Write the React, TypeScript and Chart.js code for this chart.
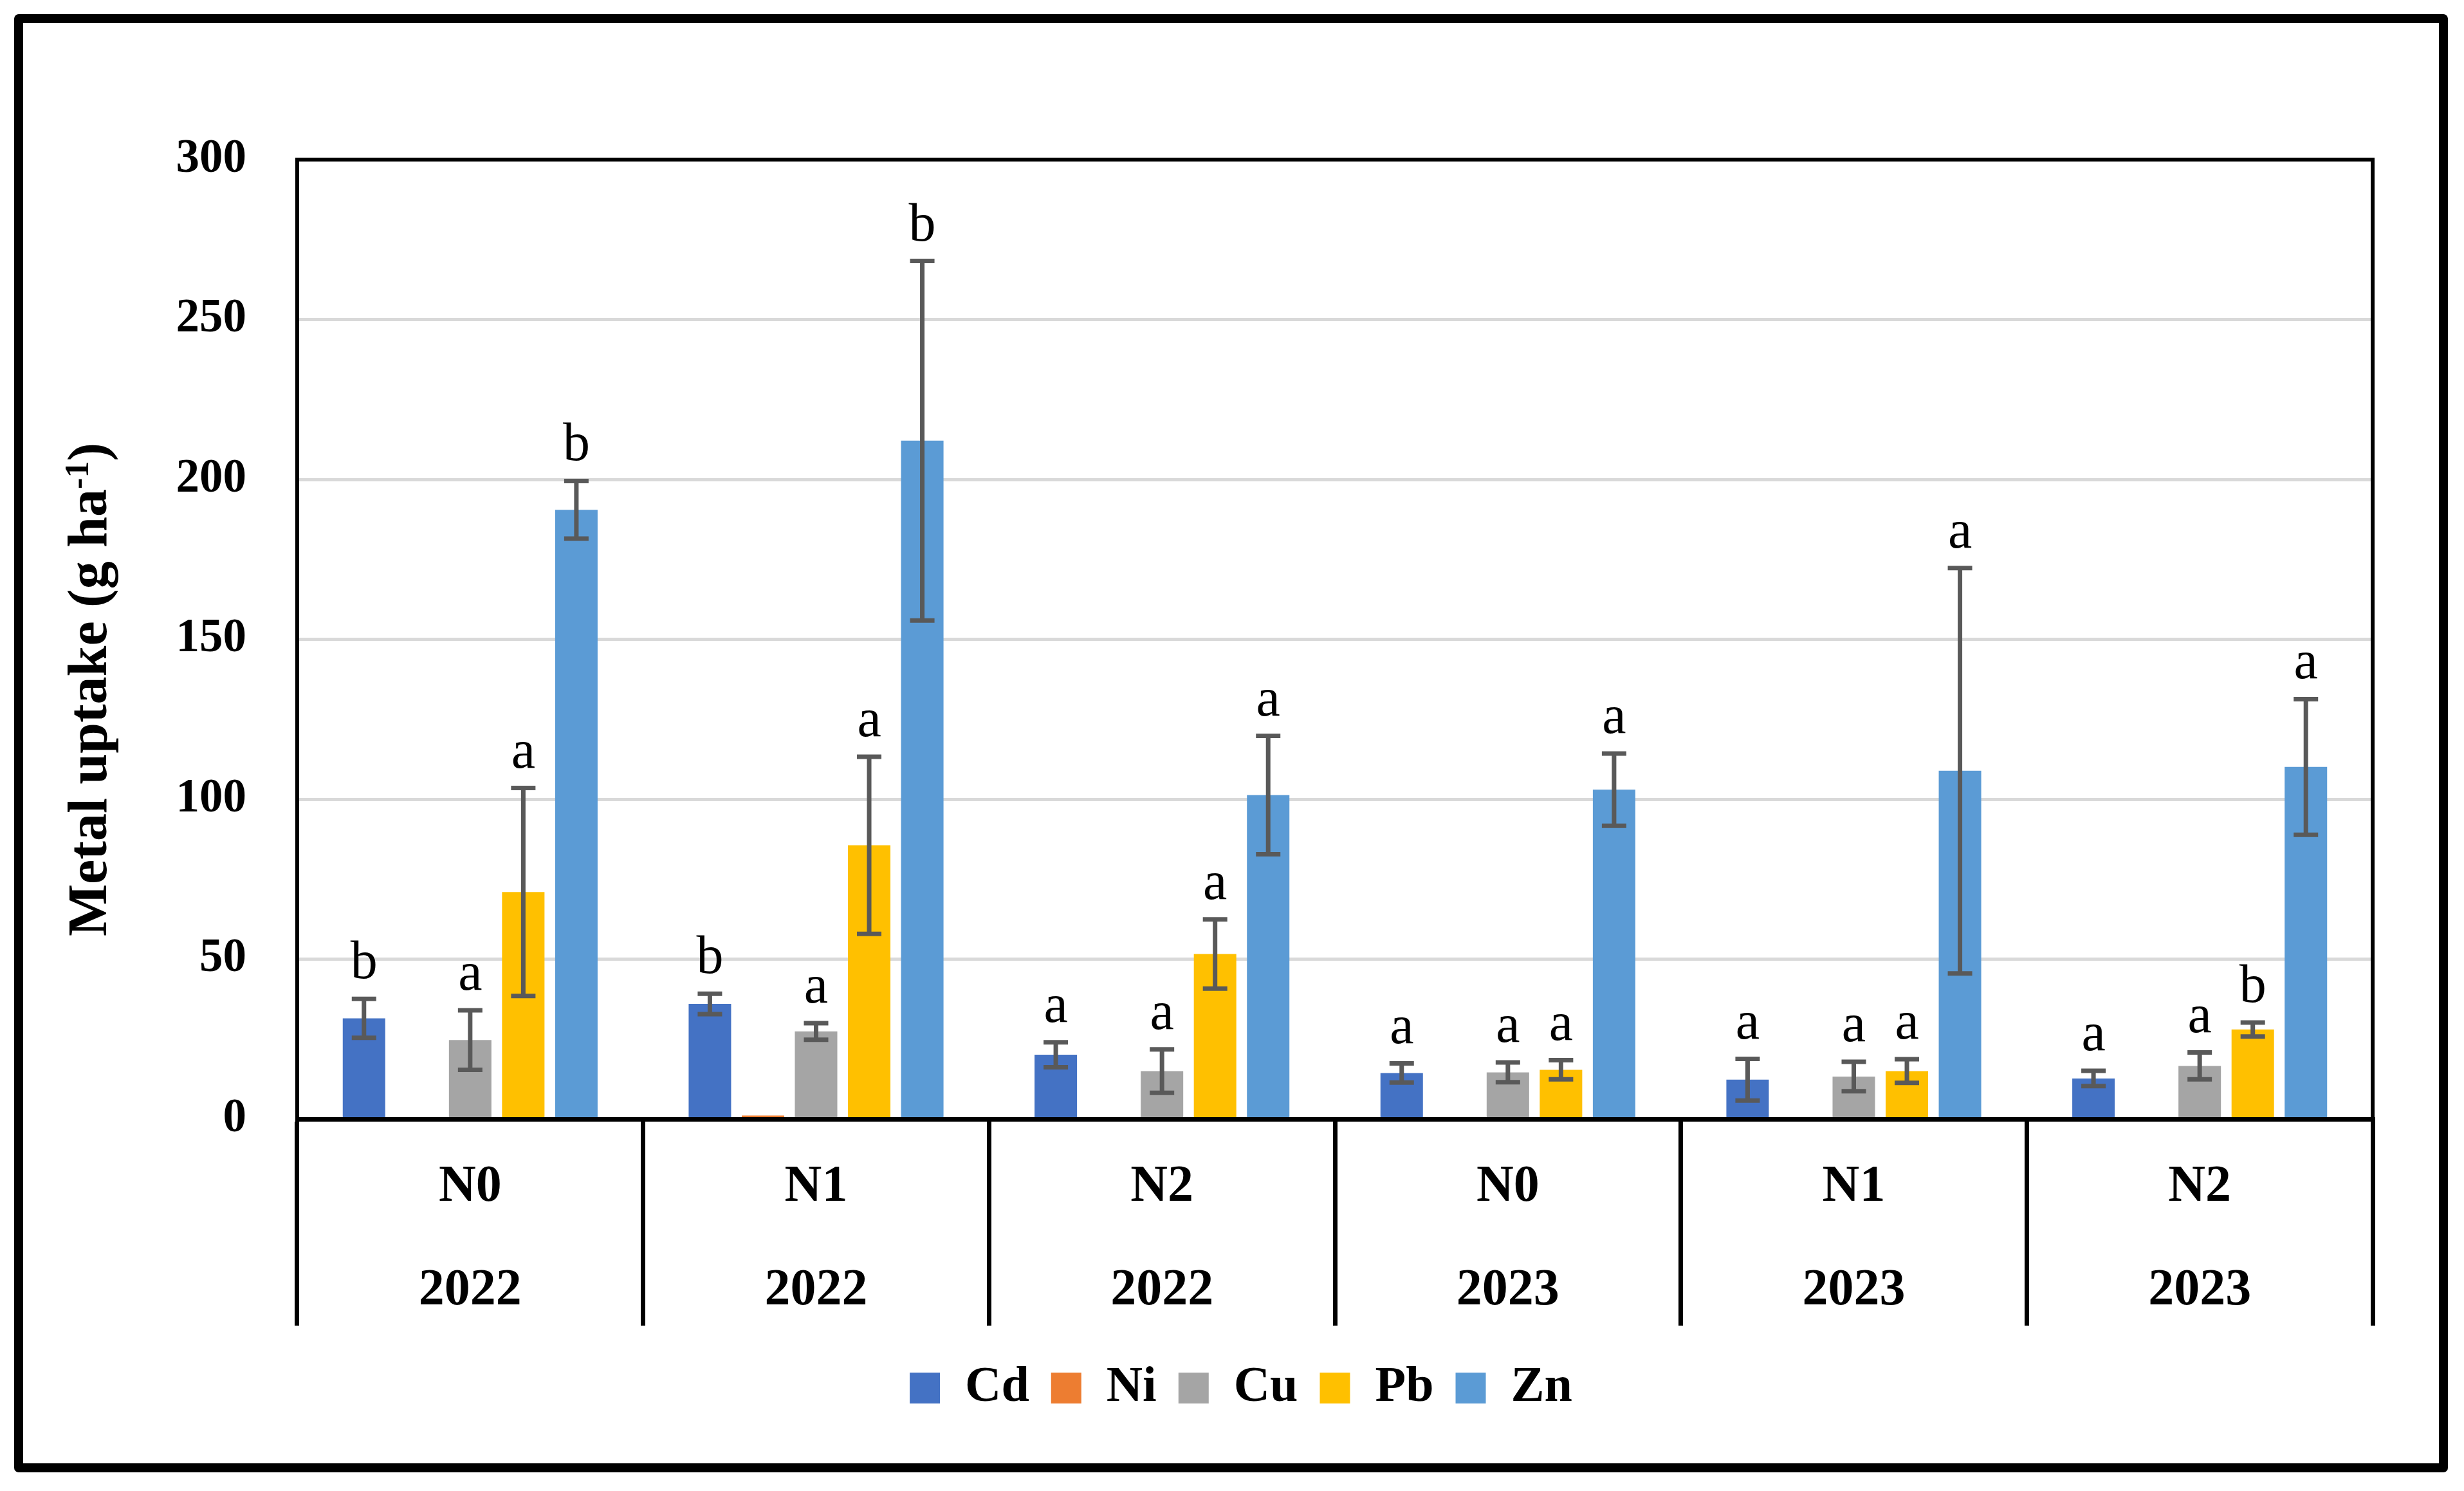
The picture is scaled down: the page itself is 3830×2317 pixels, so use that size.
import React, { useEffect, useRef } from 'react';
import { Chart, registerables } from 'chart.js';

Chart.register(...registerables);

// ---- data ----
const treatments = ['N0', 'N1', 'N2', 'N0', 'N1', 'N2'];
const years = ['2022', '2022', '2022', '2023', '2023', '2023'];
const metals = ['Cd', 'Ni', 'Cu', 'Pb', 'Zn'];

const cdValues = [31.5, 36.0, 20.1, 14.4, 12.3, 12.7];
const cdErrors = [6.1, 3.2, 3.9, 3.0, 6.5, 2.4];
const cdLetters = ['b', 'b', 'a', 'a', 'a', 'a'];

const niValues = [0, 1.1, 0, 0, 0, 0];
const niErrors = [0, 0, 0, 0, 0, 0];
const niLetters = ['', '', '', '', '', ''];

const cuValues = [24.7, 27.4, 15.0, 14.6, 13.3, 16.6];
const cuErrors = [9.3, 2.6, 6.8, 3.1, 4.6, 4.2];
const cuLetters = ['a', 'a', 'a', 'a', 'a', 'a'];

const pbValues = [71.0, 85.6, 51.6, 15.4, 15.0, 28.0];
const pbErrors = [32.5, 27.7, 10.8, 3.0, 3.7, 2.2];
const pbLetters = ['a', 'a', 'a', 'a', 'a', 'b'];

const znValues = [190.5, 212.1, 101.3, 103.0, 108.9, 110.1];
const znErrors = [9.0, 56.2, 18.5, 11.3, 63.4, 21.2];
const znLetters = ['b', 'b', 'a', 'a', 'a', 'a'];

const yMin = 0;
const yMax = 300;
const yStep = 50;

const yTitleMain = 'Metal uptake (g ha';
const yTitleSup = '-1';
const yTitleEnd = ')';

// ---- styles ----
const FONT = '"Liberation Serif", "Times New Roman", serif';
const colors = ['#4472C4', '#ED7D31', '#A5A5A5', '#FFC000', '#5B9BD5'];
const seriesValues = [cdValues, niValues, cuValues, pbValues, znValues];
const seriesErrors = [cdErrors, niErrors, cuErrors, pbErrors, znErrors];
const seriesLetters = [cdLetters, niLetters, cuLetters, pbLetters, znLetters];

const W = 3830;
const H = 2317;

const decorPlugin = {
  id: 'decor',
  afterDatasetsDraw(chart: any) {
    const ctx = chart.ctx;
    const yScale = chart.scales.y;
    ctx.save();
    // error bars and letters
    chart.data.datasets.forEach((ds: any, i: number) => {
      const meta = chart.getDatasetMeta(i);
      const errs = seriesErrors[i];
      const letters = seriesLetters[i];
      meta.data.forEach((el: any, j: number) => {
        const v = ds.data[j];
        const e = errs[j];
        const x = el.x;
        let topPix = yScale.getPixelForValue(v);
        if (e > 0) {
          const yT = yScale.getPixelForValue(v + e);
          const yB = yScale.getPixelForValue(v - e);
          topPix = yT;
          ctx.strokeStyle = '#595959';
          ctx.lineWidth = 7;
          ctx.lineCap = 'butt';
          ctx.beginPath();
          ctx.moveTo(x, yT);
          ctx.lineTo(x, yB);
          ctx.moveTo(x - 19, yT);
          ctx.lineTo(x + 19, yT);
          ctx.moveTo(x - 19, yB);
          ctx.lineTo(x + 19, yB);
          ctx.stroke();
        }
        const letter = letters[j];
        if (letter) {
          ctx.fillStyle = '#000';
          ctx.font = `normal 84px ${FONT}`;
          ctx.textAlign = 'center';
          ctx.textBaseline = 'alphabetic';
          ctx.fillText(letter, x, topPix - 32);
        }
      });
    });
    ctx.restore();
  },
  afterDraw(chart: any) {
    const ctx = chart.ctx;
    const ca = chart.chartArea;
    ctx.save();
    // plot frame top and right
    ctx.strokeStyle = '#000';
    ctx.lineWidth = 6;
    ctx.beginPath();
    ctx.moveTo(ca.left - 3, ca.top);
    ctx.lineTo(ca.right, ca.top);
    ctx.lineTo(ca.right, ca.bottom);
    ctx.stroke();
    // outer border
    ctx.lineWidth = 14;
    ctx.lineJoin = 'round';
    ctx.strokeRect(29, 29, W - 29 - 32, H - 29 - 36);
    // y axis title with superscript
    const fMain = `bold 86px ${FONT}`;
    const fSup = `bold 52px ${FONT}`;
    ctx.font = fMain;
    const wMain = ctx.measureText(yTitleMain).width;
    const wEnd = ctx.measureText(yTitleEnd).width;
    ctx.font = fSup;
    const wSup = ctx.measureText(yTitleSup).width;
    const total = wMain + wSup + wEnd;
    const cx = ca.left - 297;
    const cy = (ca.top + ca.bottom) / 2 + 78;
    ctx.translate(cx, cy);
    ctx.rotate(-Math.PI / 2);
    ctx.fillStyle = '#000';
    ctx.textAlign = 'left';
    ctx.textBaseline = 'alphabetic';
    let x = -total / 2;
    ctx.font = fMain;
    ctx.fillText(yTitleMain, x, 0);
    x += wMain;
    ctx.font = fSup;
    ctx.fillText(yTitleSup, x, -28);
    x += wSup;
    ctx.font = fMain;
    ctx.fillText(yTitleEnd, x, 0);
    ctx.restore();
  },
};

export default function App() {
  const canvasRef = useRef<HTMLCanvasElement | null>(null);

  useEffect(() => {
    document.body.style.margin = '0';
    const canvas = canvasRef.current;
    if (!canvas) return;
    const labels = treatments.map((t, i) => [t, years[i]]);
    const chart = new Chart(canvas, {
      type: 'bar',
      data: {
        labels,
        datasets: metals.map((m, i) => ({
          label: m,
          data: seriesValues[i],
          backgroundColor: colors[i],
          borderWidth: 0,
          categoryPercentage: 0.7675,
          barPercentage: 0.8,
        })),
      },
      options: {
        animation: false,
        responsive: false,
        devicePixelRatio: 1,
        events: [],
        layout: { padding: { top: 248, left: 170, right: 142, bottom: 111 } },
        plugins: {
          tooltip: { enabled: false },
          title: { display: false },
          legend: {
            position: 'bottom',
            labels: {
              boxWidth: 47,
              boxHeight: 48,
              padding: 34,
              color: '#000',
              font: { family: FONT, size: 78, weight: 'bold' },
            },
          },
        },
        scales: {
          x: {
            offset: true,
            grid: {
              display: true,
              offset: true,
              drawOnChartArea: false,
              drawTicks: true,
              tickLength: 321,
              tickWidth: 7,
              tickColor: '#000',
              lineWidth: 7,
              color: '#000',
            },
            border: { display: true, color: '#000', width: 7, z: 1 },
            ticks: {
              autoSkip: false,
              maxRotation: 0,
              minRotation: 0,
              padding: -295,
              color: '#000',
              font: { family: FONT, size: 80, weight: 'bold', lineHeight: 2.0125 },
            },
            afterFit: (scale: any) => {
              scale.height = 345;
            },
          },
          y: {
            min: yMin,
            max: yMax,
            grid: {
              color: '#D9D9D9',
              lineWidth: 5,
              drawTicks: false,
            },
            border: { display: true, color: '#000', width: 6 },
            ticks: {
              stepSize: yStep,
              padding: 79,
              color: '#000',
              font: { family: FONT, size: 73, weight: 'bold' },
            },
            afterFit: (scale: any) => {
              scale.width = 292;
            },
          },
        },
      },
      plugins: [decorPlugin],
    } as any);
    return () => chart.destroy();
  }, []);

  return (
    <div style={{ position: 'absolute', left: 0, top: 0, width: W, height: H, background: '#fff' }}>
      <canvas ref={canvasRef} width={W} height={H} style={{ width: W, height: H, display: 'block' }} />
    </div>
  );
}
